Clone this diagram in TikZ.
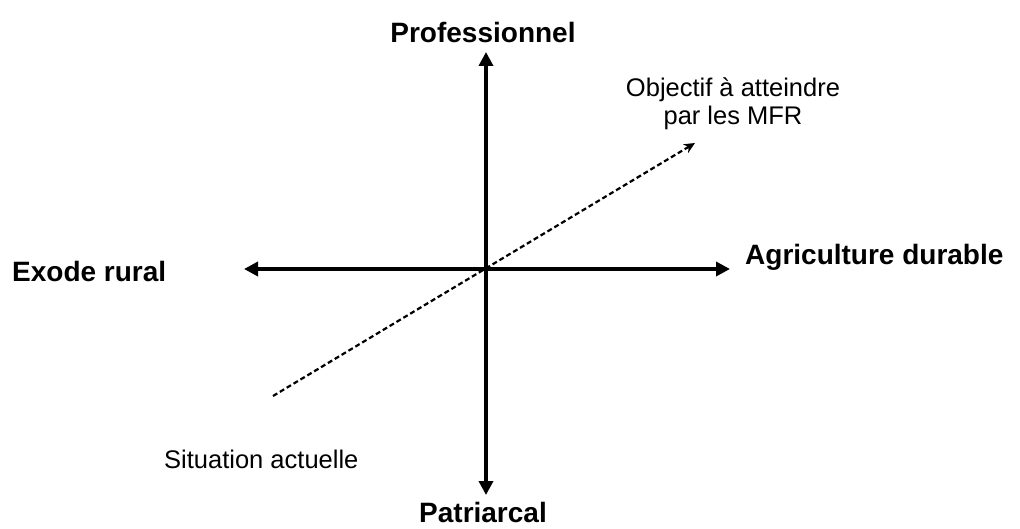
\documentclass[tikz,border=0pt]{standalone}
\usepackage{fontspec}
\setmainfont{Liberation Sans}
\usetikzlibrary{arrows.meta}
\begin{document}
\begin{tikzpicture}[x=1pt,y=1pt,
  axis/.style={line width=4.2pt,{Triangle[length=14pt,width=14pt]}-{Triangle[length=14pt,width=14pt]}},
  trend/.style={line width=2.2pt,dash pattern=on 5pt off 3pt,-{Stealth[length=11pt,width=10pt]}},
  big/.style={inner sep=0pt,font=\fontsize{28}{32}\selectfont\bfseries},
  small/.style={inner sep=0pt,font=\fontsize{25.5}{28}\selectfont,align=center}]
\useasboundingbox (0,0) rectangle (1020,528);
\coordinate (top) at (486,476);
\coordinate (bottom) at (486,33);
\coordinate (left) at (244,259);
\coordinate (right) at (730,259);
\coordinate (start) at (273,132);
\coordinate (goal) at (695,385);
\draw[axis] (bottom) -- (top);
\draw[axis] (left) -- (right);
\draw[trend] (start) -- (goal);
\node[big,anchor=base] (prof) at (483,485) {Professionnel};
\node[big,anchor=base] (patr) at (483,6) {Patriarcal};
\node[big,anchor=base west] (exode) at (12,246) {Exode rural};
\node[big,anchor=base west] (agri) at (745,263) {Agriculture durable};
\node[small,anchor=north] (obj) at (733,450) {Objectif à atteindre\\par les MFR};
\node[small,anchor=base west] (sit) at (164,60) {Situation actuelle};
\end{tikzpicture}
\end{document}
